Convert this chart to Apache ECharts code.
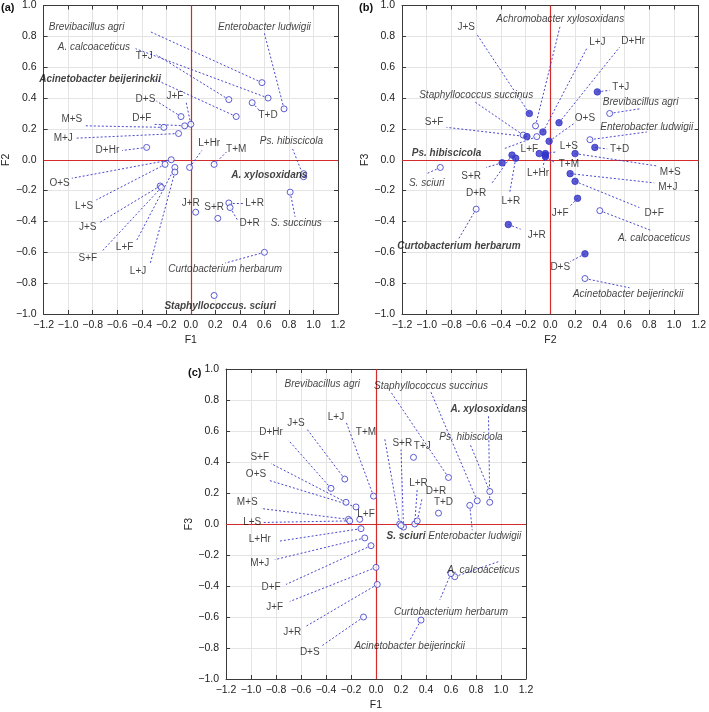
<!DOCTYPE html>
<html><head><meta charset="utf-8">
<script src="https://cdn.jsdelivr.net/npm/echarts@6/dist/echarts.min.js"></script>
<style>html,body{margin:0;padding:0;background:#fff}#c{width:709px;height:712px}</style>
</head><body><div id="c"></div><script>
// ---------- Panel (a): F1 vs F2 ----------
const aNames = ['Brevibacillus agri','A. calcoaceticus','T+J','Acinetobacter beijerinckii','Enterobacter ludwigii','T+D','J+F','D+S','D+F','M+S','M+J','D+Hr','L+Hr','T+M','O+S','L+S','J+S','S+F','L+F','L+J','J+R','S+R','L+R','D+R','S. succinus','Ps. hibiscicola','A. xylosoxidans','Curtobacterium herbarum','Staphyllococcus. sciuri'];
const aF1 = [0.58,0.63,0.31,0.37,0.76,0.50,0.00,-0.08,-0.05,-0.22,-0.10,-0.36,-0.01,0.19,-0.16,-0.21,-0.25,-0.24,-0.13,-0.13,0.04,0.22,0.31,0.32,0.81,0.92,0.92,0.60,0.19];
const aF2 = [0.50,0.40,0.39,0.28,0.33,0.37,0.23,0.28,0.22,0.21,0.17,0.08,-0.05,-0.03,0.00,-0.03,-0.17,-0.18,-0.05,-0.08,-0.34,-0.38,-0.28,-0.31,-0.21,-0.11,-0.09,-0.60,-0.88];
const aBold = ['Acinetobacter beijerinckii','A. xylosoxidans','Staphyllococcus. sciuri'];
// label leader ends and label anchors (axis units)
const aLineEnd = [[-0.33,0.83],[-0.45,0.72],[-0.28,0.68],[-0.29,0.52],[0.60,0.82],[0.56,0.32],[-0.04,0.38],[-0.28,0.38],[-0.31,0.23],[-0.86,0.22],[-0.93,0.14],[-0.56,0.06],[0.09,0.06],[0.29,0.05],[-0.97,-0.12],[-0.77,-0.26],[-0.75,-0.41],[-0.72,-0.59],[-0.44,-0.52],[-0.33,-0.67],null,null,[0.44,-0.28],[0.38,-0.39],[0.85,-0.37],[0.83,0.07],null,[0.28,-0.67],null];
const aLabelAt = [[-0.85,0.86],[-0.79,0.73],[-0.38,0.67],[-0.74,0.52],[0.60,0.86],[0.63,0.29],[-0.13,0.41],[-0.37,0.39],[-0.40,0.27],[-0.97,0.26],[-1.04,0.14],[-0.68,0.06],[0.15,0.11],[0.37,0.07],[-1.07,-0.15],[-0.87,-0.30],[-0.84,-0.44],[-0.84,-0.64],[-0.54,-0.57],[-0.43,-0.72],[0.00,-0.28],[0.19,-0.31],[0.52,-0.28],[0.48,-0.41],[0.86,-0.41],[0.82,0.12],[0.64,-0.10],[0.28,-0.71],[0.24,-0.95]];

// ---------- Panel (b): F2 vs F3 ----------
const bNames = ['J+S','Achromobacter xylosoxidans','L+J','D+Hr','T+J','Staphyllococcus succinus','Brevibacillus agri','S+F','O+S','Enterobacter ludwigii','L+F','L+S','T+D','Ps. hibiscicola','L+Hr','T+M','M+S','M+J','D+F','J+F','A. calcoaceticus','D+S','Acinetobacter beijerinckii','S. sciuri','S+R','D+R','L+R','J+R','Curtobacterium herbarum'];
const bF2 = [-0.17,-0.12,-0.06,0.07,0.38,-0.22,0.48,-0.19,-0.01,0.32,-0.09,-0.04,0.36,-0.11,-0.04,-0.04,0.20,0.16,0.20,0.22,0.40,0.28,0.28,-0.89,-0.39,-0.31,-0.28,-0.34,-0.60];
const bF3 = [0.30,0.22,0.18,0.24,0.44,0.16,0.30,0.15,0.12,0.13,0.04,0.04,0.08,0.15,0.03,0.02,0.04,-0.09,-0.14,-0.25,-0.33,-0.61,-0.77,-0.05,-0.02,0.03,0.01,-0.42,-0.32];
const bBold = ['Ps. hibiscicola','Curtobacterium herbarum'];
const bLineEnd = [[-0.60,0.82],[0.08,0.87],[0.30,0.73],[0.56,0.73],[0.48,0.45],[-0.62,0.38],[0.72,0.33],[-0.84,0.21],[0.20,0.24],[0.78,0.18],null,[0.04,0.05],[0.46,0.07],[-0.38,0.07],[-0.06,-0.05],[0.04,-0.02],[0.86,-0.04],[0.84,-0.15],[0.72,-0.31],[0.16,-0.30],[0.82,-0.46],[0.16,-0.66],[0.64,-0.83],[-1.00,-0.09],[-0.52,-0.05],[-0.48,-0.16],[-0.33,-0.22],[-0.24,-0.45],[-0.74,-0.51]];
const bLabelAt = [[-0.68,0.86],[0.08,0.91],[0.38,0.76],[0.67,0.77],[0.57,0.47],[-0.60,0.42],[0.73,0.37],[-0.94,0.24],[0.28,0.27],[0.78,0.21],[-0.17,0.07],[0.15,0.09],[0.56,0.07],[-0.84,0.04],[-0.10,-0.09],[0.15,-0.03],[0.97,-0.08],[0.95,-0.18],[0.84,-0.35],[0.08,-0.35],[0.84,-0.51],[0.08,-0.70],[0.63,-0.87],[-1.00,-0.15],[-0.64,-0.11],[-0.60,-0.22],[-0.32,-0.27],[-0.11,-0.49],[-0.74,-0.56]];

// ---------- Panel (c): F1 vs F3 ----------
const cNames = ['Brevibacillus agri','Staphyllococcus succinus','A. xylosoxidans','Ps. hibiscicola','J+S','D+Hr','S+F','O+S','M+S','L+S','L+F','L+J','T+M','S+R','T+J','L+R','D+R','T+D','S. sciuri','Enterobacter ludwigii','L+Hr','M+J','D+F','J+F','J+R','D+S','A. calcoaceticus','Curtobacterium herbarum','Acinetobacter beijerinckii'];
const cF1 = [0.58,0.81,0.91,0.91,-0.25,-0.36,-0.24,-0.16,-0.22,-0.21,-0.13,-0.02,0.19,0.22,0.30,0.31,0.33,0.50,0.20,0.75,-0.12,-0.09,-0.04,0.00,0.01,-0.10,0.63,0.60,0.36];
const cF3 = [0.30,0.15,0.14,0.21,0.29,0.23,0.14,0.11,0.03,0.02,0.03,0.18,0.00,-0.02,0.43,0.00,0.02,0.07,-0.01,0.12,-0.03,-0.09,-0.14,-0.28,-0.39,-0.60,-0.34,-0.32,-0.62];
const cBold = ['A. xylosoxidans','S. sciuri'];
const cLineEnd = [[0.12,0.85],[0.44,0.85],[0.90,0.70],[0.75,0.52],[-0.55,0.61],[-0.70,0.54],[-0.84,0.39],[-0.85,0.28],[-0.92,0.10],[-0.90,0.01],null,[-0.24,0.66],[0.07,0.55],[0.20,0.48],null,[0.33,0.23],[0.37,0.17],null,null,[0.77,-0.04],[-0.77,-0.11],[-0.81,-0.23],[-0.72,-0.39],[-0.69,-0.50],[-0.56,-0.66],[-0.44,-0.79],[0.99,-0.24],[0.51,-0.49],[0.27,-0.75]];
const cLabelAt = [[-0.43,0.90],[0.44,0.89],[0.90,0.74],[0.76,0.56],[-0.64,0.65],[-0.84,0.59],[-0.93,0.43],[-0.96,0.32],[-1.03,0.14],[-0.99,0.01],[-0.08,0.06],[-0.32,0.69],[-0.08,0.59],[0.21,0.52],[0.37,0.50],[0.34,0.26],[0.48,0.21],[0.54,0.14],[0.24,-0.08],[0.79,-0.08],[-0.93,-0.10],[-0.93,-0.25],[-0.84,-0.41],[-0.81,-0.54],[-0.67,-0.70],[-0.53,-0.83],[0.86,-0.30],[0.60,-0.57],[0.27,-0.79]];

const X_MIN = -1.2, X_MAX = 1.2, Y_MIN = -1.0, Y_MAX = 1.0, STEP = 0.2;

const FONT = '"Liberation Sans", Arial, sans-serif';
const BLUE = '#3434c8';
const RED = '#d42a2a';
function fmt(v){ if (Math.abs(v) < 1e-9) return '0.0'; return v.toFixed(1).replace('-', '\u2212'); }
function isSpecies(n){ return n.indexOf('+') < 0; }

const panels = [
  {names:aNames, x:aF1, y:aF2, ends:aLineEnd, labels:aLabelAt, bold:aBold, fillTreat:false, grid:{left:38, top:4, width:300, height:310}, xName:'F1', yName:'F2'},
  {names:bNames, x:bF2, y:bF3, ends:bLineEnd, labels:bLabelAt, bold:bBold, fillTreat:true, grid:{left:402, top:4, width:300, height:310}, xName:'F2', yName:'F3'},
  {names:cNames, x:cF1, y:cF3, ends:cLineEnd, labels:cLabelAt, bold:cBold, fillTreat:false, grid:{left:226, top:369, width:300, height:310}, xName:'F1', yName:'F3'}
];

const grid = [], xAxis = [], yAxis = [], series = [];
panels.forEach((p, i) => {
  grid.push(p.grid);
  const xb = {type:'value', min:X_MIN, max:X_MAX, interval:STEP, gridIndex:i};
  const yb = {type:'value', min:Y_MIN, max:Y_MAX, interval:STEP, gridIndex:i};
  const line = {show:true, onZero:false, lineStyle:{color:'#3a3a3a', width:1}};
  const tick = {inside:true, length:4, lineStyle:{color:'#3a3a3a'}};
  const nameStyle = {fontSize:10.5, color:'#222', fontFamily:FONT};
  xAxis.push(Object.assign({}, xb, {position:'bottom', axisLine:line, axisTick:tick,
    axisLabel:{formatter:fmt, fontSize:10.5, color:'#222', margin:6, fontFamily:FONT},
    splitLine:{show:true, lineStyle:{color:'#e4e4e4', width:1}},
    name:p.xName, nameLocation:'middle', nameGap:21, nameTextStyle:nameStyle}));
  xAxis.push(Object.assign({}, xb, {position:'top', axisLine:line, axisTick:tick, axisLabel:{show:false}, splitLine:{show:false}}));
  yAxis.push(Object.assign({}, yb, {position:'left', axisLine:line, axisTick:tick,
    axisLabel:{formatter:fmt, fontSize:10.5, color:'#222', margin:7, fontFamily:FONT},
    splitLine:{show:true, lineStyle:{color:'#e4e4e4', width:1}},
    name:p.yName, nameLocation:'middle', nameGap:25, nameTextStyle:nameStyle}));
  yAxis.push(Object.assign({}, yb, {position:'right', axisLine:line, axisTick:tick, axisLabel:{show:false}, splitLine:{show:false}}));

  const xi = i*2, yi = i*2;
  const leaders = [];
  p.names.forEach((n, k) => { if (p.ends[k]) leaders.push({coords:[[p.x[k], p.y[k]], p.ends[k]]}); });
  series.push({type:'lines', coordinateSystem:'cartesian2d', xAxisIndex:xi, yAxisIndex:yi, z:3,
    lineStyle:{color:BLUE, width:1, type:[2,2], opacity:0.9}, data:leaders, silent:true});
  series.push({type:'scatter', xAxisIndex:xi, yAxisIndex:yi, z:5, symbol:'circle',
    data:p.names.map((n, k) => {
      const filled = p.fillTreat && !isSpecies(n);
      return {value:[p.x[k], p.y[k]], name:n, symbolSize: filled ? 6.5 : 6,
        itemStyle: filled ? {color:BLUE, borderColor:BLUE, borderWidth:1} : {color:'#fff', borderColor:BLUE, borderWidth:1}};
    }),
    markLine:{silent:true, symbol:'none', label:{show:false}, lineStyle:{color:RED, type:'solid', width:1.2},
      data:[{xAxis:0}, {yAxis:0}], z:2}
  });
  series.push({type:'scatter', xAxisIndex:xi, yAxisIndex:yi, z:6, symbol:'circle', symbolSize:1,
    itemStyle:{color:'rgba(0,0,0,0)'}, silent:true,
    data:p.names.map((n, k) => ({value:p.labels[k], name:n,
      label:{fontStyle: isSpecies(n) ? 'italic' : 'normal', fontWeight: p.bold.indexOf(n) >= 0 ? 'bold' : 'normal'}})),
    label:{show:true, position:'inside', formatter:'{b}', color:'#111', fontSize:10, fontFamily:FONT}
  });
});

const chart = echarts.init(document.getElementById('c'), null, {renderer:'canvas'});
chart.setOption({
  animation:false, backgroundColor:'#fff',
  grid, xAxis, yAxis, series,
  graphic:[
    {type:'text', left:1, top:2, style:{text:'(a)', font:'bold 11px ' + FONT, fill:'#111'}},
    {type:'text', left:359, top:2, style:{text:'(b)', font:'bold 11px ' + FONT, fill:'#111'}},
    {type:'text', left:188, top:367, style:{text:'(c)', font:'bold 11px ' + FONT, fill:'#111'}}
  ]
});
</script></body></html>
